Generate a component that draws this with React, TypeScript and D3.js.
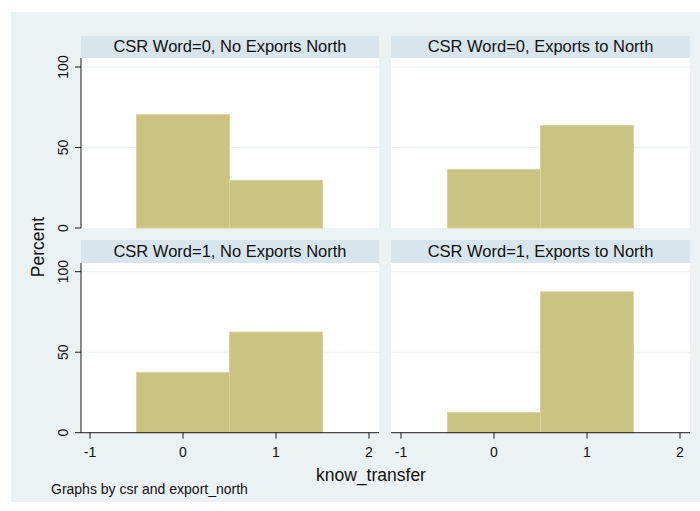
import React from "react";
import * as d3 from "d3";

// facet titles, in row order
const panelTitles = [
  "CSR Word=0, No Exports North",
  "CSR Word=0, Exports to North",
  "CSR Word=1, No Exports North",
  "CSR Word=1, Exports to North",
];
// histogram bins of know_transfer (bin start, bin end)
const binStarts = [-0.5, 0.5];
const binEnds = [0.5, 1.5];
// percent in each bin, per panel
const pctCsr0NoExp = [70.4, 29.6];
const pctCsr0Exp = [36.4, 63.6];
const pctCsr1NoExp = [37.5, 62.5];
const pctCsr1Exp = [12.5, 87.5];
const xTicks = [-1, 0, 1, 2];
const yTicks = [0, 50, 100];

const W = 700;
const H = 511;
const FONT = "'Liberation Sans', Arial, Helvetica, sans-serif";
const BAR = "#cac382";
const BAR_EDGE = "#d9d3a2";
const BG = "#eaf2f3";
const STRIP = "#d9e5ec";
const AXIS = "#1a1a1a";

const cols = [
  { x0: 81, x1: 379, r0: 90, r1: 369 },
  { x0: 391, x1: 690, r0: 401, r1: 680 },
];
const rows = [
  { stripTop: 36, top: 58, bottom: 228 },
  { stripTop: 240, top: 263, bottom: 432.7 },
];

const App = () => {
  const series = [pctCsr0NoExp, pctCsr0Exp, pctCsr1NoExp, pctCsr1Exp];

  return (
    <svg
      width={W}
      height={H}
      style={{ position: "absolute", left: 0, top: 0, fontFamily: FONT }}
    >
      <rect x={0} y={0} width={W} height={H} fill="#ffffff" />
      <rect x={11} y={12} width={689} height={490} fill={BG} />

      {series.map((vals, i) => {
        const c = cols[i % 2];
        const r = rows[Math.floor(i / 2)];
        const x = d3.scaleLinear().domain([-1, 2]).range([c.r0, c.r1]);
        const y = d3.scaleLinear().domain([0, 100]).range([r.bottom, r.bottom - 161]);
        const isLeft = i % 2 === 0;
        const isBottom = i >= 2;
        return (
          <g key={i}>
            {/* strip */}
            <rect x={c.x0} y={r.stripTop} width={c.x1 - c.x0} height={r.top - r.stripTop} fill={STRIP} />
            <text
              x={(c.x0 + c.x1) / 2}
              y={r.top - 6.5}
              textAnchor="middle"
              fontSize={16.5}
              fill="#111"
            >
              {panelTitles[i]}
            </text>
            {/* plot region */}
            <rect x={c.x0} y={r.top} width={c.x1 - c.x0} height={r.bottom - r.top} fill="#ffffff" />
            {yTicks.filter((t) => t > 0).map((t) => (
              <line key={t} x1={c.x0} x2={c.x1} y1={y(t)} y2={y(t)} stroke={BG} strokeWidth={1} />
            ))}
            {/* bars */}
            {vals.map((v, j) => (
              <rect
                key={j}
                x={x(binStarts[j])}
                y={y(v)}
                width={x(binEnds[j]) - x(binStarts[j])}
                height={y(0) - y(v)}
                fill={BAR}
                stroke={BAR_EDGE}
                strokeWidth={1}
              />
            ))}
            {/* y axis */}
            {isLeft && (
              <g>
                <line x1={c.x0} x2={c.x0} y1={r.top} y2={r.bottom} stroke={AXIS} strokeWidth={1} />
                {yTicks.map((t) => (
                  <g key={t}>
                    <line x1={c.x0 - 6} x2={c.x0} y1={y(t)} y2={y(t)} stroke={AXIS} strokeWidth={1} />
                    <text
                      transform={`translate(${c.x0 - 13},${y(t)}) rotate(-90)`}
                      textAnchor="middle"
                      fontSize={14}
                      fill="#111"
                    >
                      {t}
                    </text>
                  </g>
                ))}
              </g>
            )}
            {/* x axis */}
            {isBottom && (
              <g>
                <line x1={c.x0} x2={c.x1} y1={r.bottom} y2={r.bottom} stroke={AXIS} strokeWidth={1} />
                {xTicks.map((t) => (
                  <g key={t}>
                    <line x1={x(t)} x2={x(t)} y1={r.bottom} y2={r.bottom + 6} stroke={AXIS} strokeWidth={1} />
                    <text x={x(t)} y={r.bottom + 24} textAnchor="middle" fontSize={14} fill="#111">
                      {t}
                    </text>
                  </g>
                ))}
              </g>
            )}
          </g>
        );
      })}

      <text
        transform={`translate(44,247) rotate(-90)`}
        textAnchor="middle"
        fontSize={17.5}
        fill="#111"
      >
        Percent
      </text>
      <text x={371} y={481} textAnchor="middle" fontSize={17.5} fill="#111">
        know_transfer
      </text>
      <text x={51} y={494} fontSize={14} fill="#111">
        Graphs by csr and export_north
      </text>
    </svg>
  );
};

export default App;
